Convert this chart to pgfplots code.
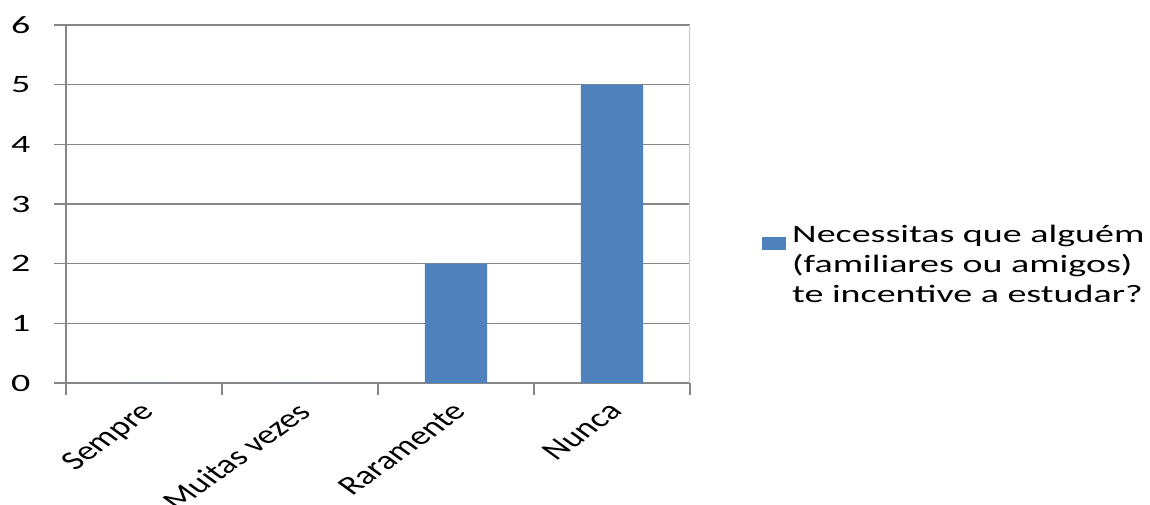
\documentclass[border=0pt]{standalone}
\usepackage{fontspec}
\setmainfont{Carlito}[FakeStretch=1.52]
\newfontfamily\plainfont{Carlito}
\usepackage{pgfplots}
\pgfplotsset{compat=1.18}
\definecolor{barblue}{HTML}{4F81BD}
\definecolor{axgray}{HTML}{868686}
\definecolor{bordergray}{HTML}{C8C8C8}
\begin{document}
\begin{tikzpicture}
\useasboundingbox (0,0) rectangle (1150pt,504pt);
\begin{axis}[
  at={(66pt,121pt)}, anchor=south west,
  scale only axis, width=624pt, height=358pt,
  ybar, bar width=0.4,
  xmin=-0.5, xmax=3.5, ymin=0, ymax=6,
  axis lines=left,
  axis line style={axgray, line width=1.5pt, -},
  ytick={0,1,2,3,4,5,6},
  xtick={-0.5,0.5,1.5,2.5,3.5},
  xticklabels={},
  extra x ticks={0,1,2,3},
  extra x tick labels={Sempre,Muitas vezes,Raramente,Nunca},
  extra x tick style={major tick length=0pt, grid=none,
    tick label style={font=\plainfont\fontsize{26.5}{30}\selectfont,
      anchor=north east, xshift=-5pt, yshift=-13pt, xscale=1.38, rotate=45}},
  tick align=outside,
  major tick length=12pt,
  tick style={axgray, line width=1.5pt},
  ymajorgrids, grid style={axgray, line width=1.2pt},
  /pgf/number format/assume math mode=true,
  tick label style={font=\fontsize{25}{30}\selectfont, text=black},
  yticklabel shift=20pt,
  legend style={at={(1.1154,0.332)}, anchor=west, draw=none, fill=none,
    inner sep=0pt, font=\fontsize{25}{30}\selectfont,
    cells={align=left}},
  legend image code/.code={\path (0pt,20pt) -- (28pt,20pt);
    \fill[barblue] (0pt,14pt) rectangle (24pt,27pt);},
]
\addplot[fill=barblue, draw=none] coordinates {(0,0) (1,0) (2,2) (3,5)};
\addlegendentry{Necessitas que alguém\\(familiares ou amigos)\\te incentive a estudar?}
\draw[bordergray, line width=1.2pt] (rel axis cs:1,0) -- (rel axis cs:1,1);
\end{axis}
\end{tikzpicture}
\end{document}
